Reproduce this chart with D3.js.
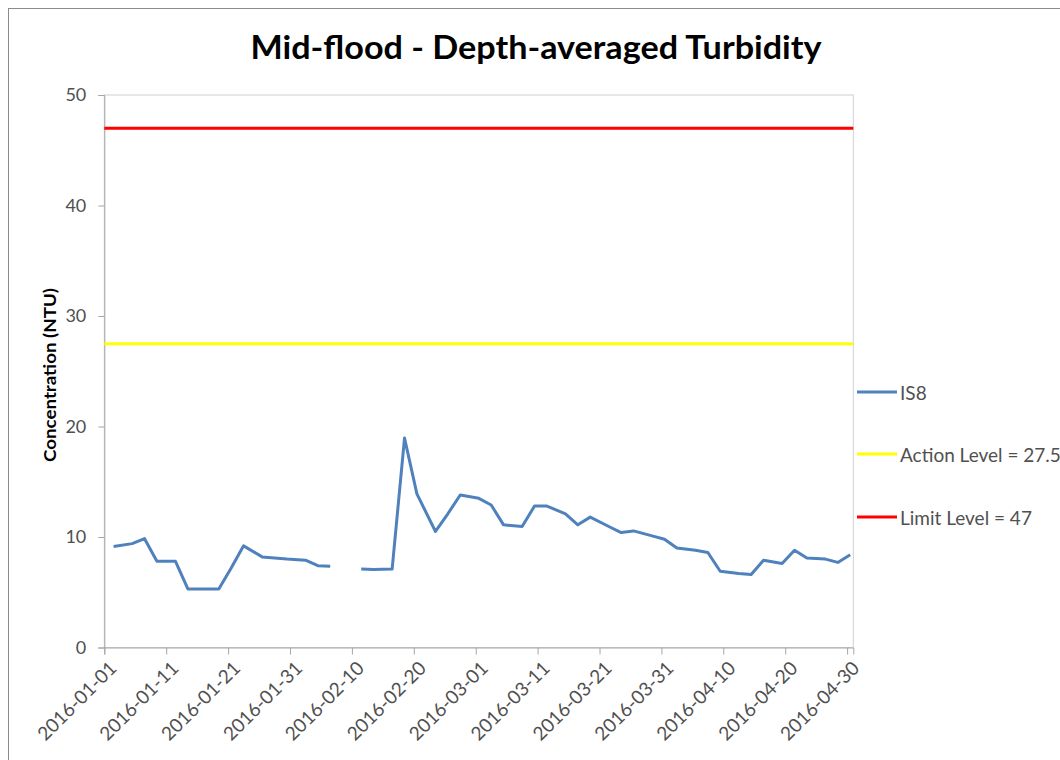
<!DOCTYPE html>
<html>
<head>
<meta charset="utf-8">
<script src="https://cdn.jsdelivr.net/npm/d3@7"></script>
<style>
  html, body { margin: 0; padding: 0; background: #fff; }
  svg { display: block; }
</style>
</head>
<body>
<svg id="chart" width="1060" height="760"></svg>
<script>
// ---------- DATA ----------
const dates = [
  "2016-01-02","2016-01-05","2016-01-07","2016-01-09","2016-01-12","2016-01-14","2016-01-16",
  "2016-01-19","2016-01-21","2016-01-23","2016-01-26","2016-01-28","2016-01-30",
  "2016-02-02","2016-02-04","2016-02-06","2016-02-09","2016-02-11","2016-02-13","2016-02-16",
  "2016-02-18","2016-02-20","2016-02-23","2016-02-25","2016-02-27",
  "2016-03-01","2016-03-03","2016-03-05","2016-03-08","2016-03-10","2016-03-12","2016-03-15",
  "2016-03-17","2016-03-19","2016-03-22","2016-03-24","2016-03-26","2016-03-29","2016-03-31",
  "2016-04-02","2016-04-05","2016-04-07","2016-04-09","2016-04-12","2016-04-14","2016-04-16",
  "2016-04-19","2016-04-21","2016-04-23","2016-04-26","2016-04-28","2016-04-30"
];
const is8Values = [
  9.15, 9.4, 9.85, 7.8, 7.8, 5.3, 5.3,
  5.3, 7.2, 9.2, 8.2, 8.1, 8.0,
  7.9, 7.4, 7.35, null, 7.1, 7.05, 7.1,
  18.95, 13.9, 10.5, 12.1, 13.8,
  13.5, 12.9, 11.1, 10.95, 12.8, 12.8, 12.1,
  11.1, 11.8, 10.95, 10.4, 10.55, 10.1, 9.8,
  9.0, 8.8, 8.6, 6.9, 6.7, 6.6, 7.9,
  7.6, 8.8, 8.1, 8.0, 7.7, 8.4
];
const actionLevel = 27.5;
const limitLevel = 47;
const xTickLabels = [
  "2016-01-01","2016-01-11","2016-01-21","2016-01-31","2016-02-10","2016-02-20",
  "2016-03-01","2016-03-11","2016-03-21","2016-03-31","2016-04-10","2016-04-20","2016-04-30"
];
const yTicks = [0, 10, 20, 30, 40, 50];
const seriesNames = ["IS8", "Action Level = 27.5", "Limit Level = 47"];
const seriesColors = ["#4F81BD", "#FFFF00", "#FF0000"];
const titleText = "Mid-flood - Depth-averaged Turbidity";
const yTitleText = "Concentration (NTU)";

// ---------- LAYOUT ----------
const svg = d3.select("#chart");
const plot = { left: 104.3, right: 853.3, top: 95, bottom: 647.5 };
const parse = d3.utcParse("%Y-%m-%d");
const dayMs = 86400000;

const x = d3.scaleUtc()
  .domain([parse("2016-01-01"), parse("2016-05-01")])
  .range([plot.left, plot.right]);
const y = d3.scaleLinear().domain([0, 50]).range([plot.bottom, plot.top]);

const textGray = "#505050";
const font = "Lato, 'Open Sans', sans-serif";

// outer chart border
svg.append("rect")
  .attr("x", 8.5).attr("y", 8.5).attr("width", 1200).attr("height", 900)
  .attr("fill", "none").attr("stroke", "#8c8c8c").attr("stroke-width", 1);

// plot area border
svg.append("rect")
  .attr("x", plot.left).attr("y", plot.top)
  .attr("width", plot.right - plot.left).attr("height", plot.bottom - plot.top)
  .attr("fill", "none").attr("stroke", "#d0d0d0").attr("stroke-width", 1);

// title
svg.append("text")
  .attr("x", 536).attr("y", 59)
  .attr("text-anchor", "middle")
  .attr("font-family", font).attr("font-weight", "bold")
  .attr("font-size", 32).attr("fill", "#000")
  .attr("textLength", 571).attr("lengthAdjust", "spacingAndGlyphs")
  .text(titleText);

// y axis
const yAxis = d3.axisLeft(y).tickValues(yTicks).tickSize(6).tickPadding(12).tickFormat(d3.format("d"));
const gy = svg.append("g").attr("transform", `translate(${plot.left},0)`).call(yAxis);
gy.select(".domain").attr("stroke", "#a6a6a6");
gy.selectAll(".tick line").attr("stroke", "#a6a6a6");
gy.selectAll(".tick text")
  .attr("font-family", font).attr("font-size", 18).attr("fill", textGray);

// y title
svg.append("text")
  .attr("transform", `translate(49,375) rotate(-90)`)
  .attr("text-anchor", "middle").attr("dominant-baseline", "central")
  .attr("font-family", font).attr("font-weight", "bold")
  .attr("font-size", 17).attr("fill", "#000")
  .attr("textLength", 174).attr("lengthAdjust", "spacingAndGlyphs")
  .text(yTitleText);

// x axis
const xTickDates = xTickLabels.map(parse);
const xAxis = d3.axisBottom(x).tickValues(xTickDates).tickSize(7).tickFormat(d3.utcFormat("%Y-%m-%d"));
const gx = svg.append("g").attr("transform", `translate(0,${plot.bottom})`).call(xAxis);
gx.select(".domain").attr("stroke", "#a6a6a6");
gx.selectAll(".tick line").attr("stroke", "#a6a6a6");
gx.selectAll(".tick text")
  .attr("font-family", font).attr("font-size", 19).attr("fill", textGray)
  .attr("text-anchor", "end")
  .attr("dy", null)
  .attr("y", 0)
  .attr("transform", "translate(13,22) rotate(-45)");

// level lines
const levelLine = (val, color) => {
  svg.append("line")
    .attr("x1", plot.left).attr("x2", plot.right)
    .attr("y1", y(val)).attr("y2", y(val))
    .attr("stroke", color).attr("stroke-width", 3);
};
levelLine(actionLevel, seriesColors[1]);
levelLine(limitLevel, seriesColors[2]);

// IS8 series
const pts = dates.map((d, i) => ({ date: new Date(parse(d).getTime() + dayMs / 2), v: is8Values[i] }));
const line = d3.line()
  .defined(d => d.v !== null)
  .x(d => x(d.date))
  .y(d => y(d.v));
svg.append("path")
  .datum(pts)
  .attr("fill", "none")
  .attr("stroke", seriesColors[0])
  .attr("stroke-width", 3)
  .attr("stroke-linejoin", "round")
  .attr("d", line);

// legend
const legendY = [392, 454, 517];
seriesNames.forEach((name, i) => {
  svg.append("line")
    .attr("x1", 857).attr("x2", 897)
    .attr("y1", legendY[i]).attr("y2", legendY[i])
    .attr("stroke", seriesColors[i]).attr("stroke-width", 3);
  svg.append("text")
    .attr("x", 900).attr("y", legendY[i])
    .attr("dominant-baseline", "central")
    .attr("font-family", font).attr("font-size", 19).attr("fill", textGray)
    .text(name);
});
</script>
</body>
</html>
